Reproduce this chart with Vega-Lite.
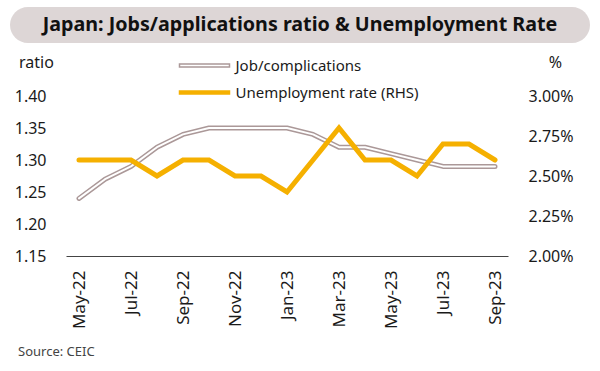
{
  "$schema": "https://vega.github.io/schema/vega-lite/v6.json",
  "padding": {"left": 10, "top": 7, "right": 10, "bottom": 5},
  "background": "white",
  "config": {
    "font": "Noto Sans",
    "view": {"stroke": null},
    "axis": {"labelFont": "Noto Sans", "titleFont": "Noto Sans", "labelColor": "#1a1a1a", "titleColor": "#1a1a1a"}
  },
  "title": {"text": "Source: CEIC", "orient": "bottom", "anchor": "start", "fontSize": 13, "fontWeight": "normal", "color": "#444444", "font": "Noto Sans", "offset": 17, "dx": 8},
  "datasets": {
    "series": [
      {"month": "May-22", "ratio": 1.24, "unemp": 2.6},
      {"month": "Jun-22", "ratio": 1.27, "unemp": 2.6},
      {"month": "Jul-22", "ratio": 1.29, "unemp": 2.6},
      {"month": "Aug-22", "ratio": 1.32, "unemp": 2.5},
      {"month": "Sep-22", "ratio": 1.34, "unemp": 2.6},
      {"month": "Oct-22", "ratio": 1.35, "unemp": 2.6},
      {"month": "Nov-22", "ratio": 1.35, "unemp": 2.5},
      {"month": "Dec-22", "ratio": 1.35, "unemp": 2.5},
      {"month": "Jan-23", "ratio": 1.35, "unemp": 2.4},
      {"month": "Feb-23", "ratio": 1.34, "unemp": 2.6},
      {"month": "Mar-23", "ratio": 1.32, "unemp": 2.8},
      {"month": "Apr-23", "ratio": 1.32, "unemp": 2.6},
      {"month": "May-23", "ratio": 1.31, "unemp": 2.6},
      {"month": "Jun-23", "ratio": 1.30, "unemp": 2.5},
      {"month": "Jul-23", "ratio": 1.29, "unemp": 2.7},
      {"month": "Aug-23", "ratio": 1.29, "unemp": 2.7},
      {"month": "Sep-23", "ratio": 1.29, "unemp": 2.6}
    ],
    "heading": [{"text": "Japan: Jobs/applications ratio & Unemployment Rate"}],
    "empty": []
  },
  "concat": [
    {
      "width": 580,
      "height": 36,
      "view": {"fill": "#ddd6d6", "cornerRadius": 18, "stroke": null},
      "data": {"name": "heading"},
      "mark": {"type": "text", "fontSize": 19.7, "fontWeight": "bold", "color": "#111111", "font": "Noto Sans", "baseline": "middle", "align": "center"},
      "encoding": {"text": {"field": "text"}}
    },
    {
      "spacing": 0,
      "hconcat": [
        {
          "width": 4,
          "height": 160,
          "data": {"name": "empty"},
          "mark": {"type": "point", "opacity": 0},
          "encoding": {}
        },
        {
          "width": 442,
          "height": 160,
          "data": {"name": "series"},
          "encoding": {
            "x": {
              "field": "month", "type": "ordinal", "sort": null,
              "scale": {"type": "point", "padding": 0.5},
              "axis": {
                "title": null,
                "values": ["May-22", "Jul-22", "Sep-22", "Nov-22", "Jan-23", "Mar-23", "May-23", "Jul-23", "Sep-23"],
                "labelAngle": -90, "labelAlign": "right", "labelBaseline": "middle",
                "labelFontSize": 17, "labelPadding": 14,
                "ticks": false, "grid": false,
                "domainColor": "#444444", "domainWidth": 1
              }
            }
          },
          "layer": [
            {
              "mark": {"type": "line", "strokeWidth": 5, "strokeCap": "round", "strokeJoin": "round"},
              "encoding": {
                "y": {
                  "field": "ratio", "type": "quantitative",
                  "scale": {"domain": [1.15, 1.40], "zero": false, "nice": false},
                  "axis": {
                    "orient": "left", "values": [1.15, 1.2, 1.25, 1.3, 1.35, 1.4], "format": ".2f",
                    "domain": false, "ticks": false, "grid": false,
                    "labelFontSize": 16, "labelPadding": 20,
                    "title": "ratio", "titleAngle": 0, "titleFontSize": 16, "titleFontWeight": "normal",
                    "titleAlign": "center", "titleBaseline": "middle", "titleX": -30, "titleY": -34
                  }
                },
                "color": {
                  "datum": "Job/complications",
                  "scale": {"domain": ["Job/complications", "Unemployment rate (RHS)"], "range": ["#ab9898", "#f5b000"]},
                  "legend": {
                    "title": null, "orient": "none", "legendX": 181, "legendY": 45,
                    "symbolType": "M-2,-0.12L2,-0.12L2,0.12L-2,0.12Z",
                    "symbolSize": 625, "symbolStrokeWidth": 1.5,
                    "labelFontSize": 15, "labelColor": "#1a1a1a", "labelOffset": 17.5, "rowPadding": 5,
                    "labelLimit": 400,
                    "encode": {
                      "symbols": {
                        "update": {
                          "fill": {"signal": "datum.value === 'Job/complications' ? '#ffffff' : '#f5b000'"},
                          "fillOpacity": {"value": 1},
                          "strokeWidth": {"value": 1.5}
                        }
                      }
                    }
                  }
                }
              }
            },
            {
              "mark": {"type": "line", "strokeWidth": 2, "color": "#ffffff", "strokeCap": "round", "strokeJoin": "round"},
              "encoding": {
                "y": {"field": "ratio", "type": "quantitative", "scale": {"domain": [1.15, 1.40], "zero": false, "nice": false}, "axis": null}
              }
            },
            {
              "mark": {"type": "line", "strokeWidth": 5, "strokeCap": "round", "strokeJoin": "miter"},
              "encoding": {
                "y": {
                  "field": "unemp", "type": "quantitative",
                  "scale": {"domain": [2.0, 3.0], "zero": false, "nice": false},
                  "axis": {
                    "orient": "right", "values": [2.0, 2.25, 2.5, 2.75, 3.0],
                    "labelExpr": "format(datum.value, '.2f') + '%'",
                    "domain": false, "ticks": false, "grid": false,
                    "labelFontSize": 16, "labelPadding": 20,
                    "title": "%", "titleAngle": 0, "titleFontSize": 16, "titleFontWeight": "normal",
                    "titleAlign": "center", "titleBaseline": "middle", "titleX": 47, "titleY": -34
                  }
                },
                "color": {"datum": "Unemployment rate (RHS)"}
              }
            }
          ],
          "resolve": {"scale": {"y": "independent"}, "axis": {"y": "independent"}}
        }
      ]
    }
  ],
  "columns": 1,
  "align": "none",
  "spacing": 11
}
